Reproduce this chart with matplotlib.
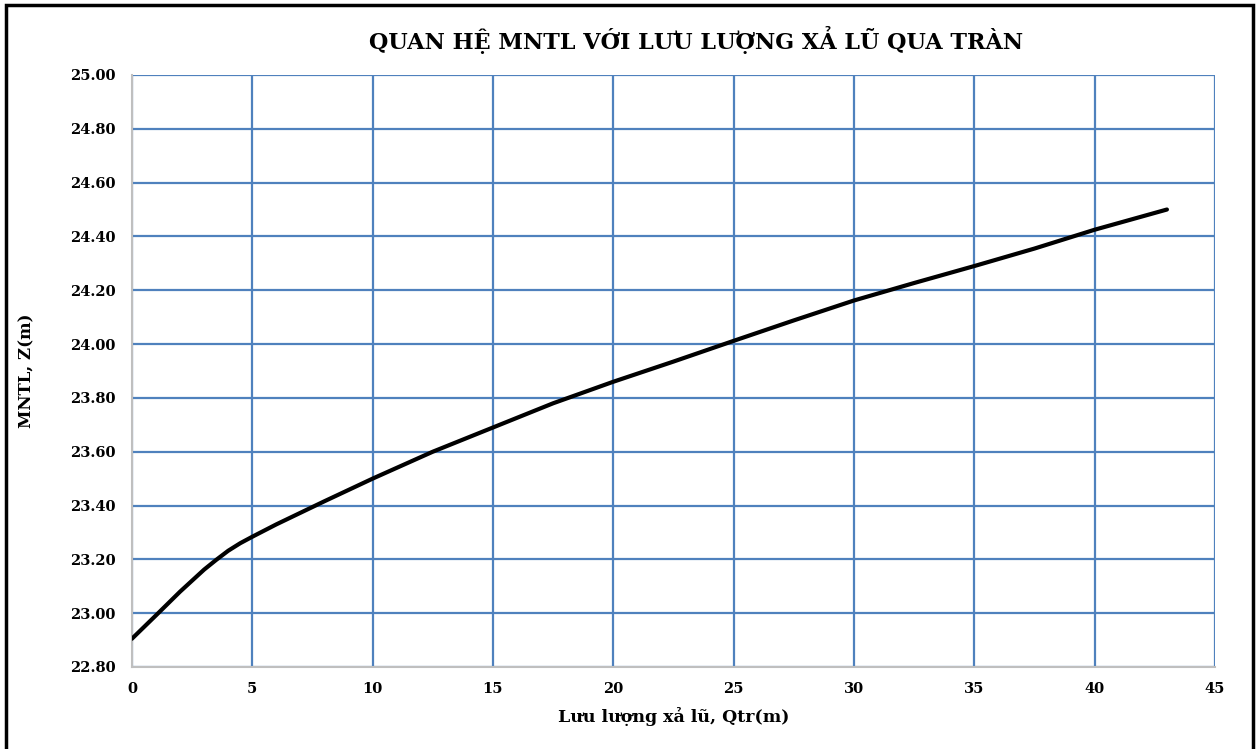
import matplotlib.pyplot as plt
from matplotlib.patches import Rectangle

# discharge over spillway (x) vs reservoir level (y)
q_tran = [0, 1, 2, 3, 3.5, 4, 4.5, 5, 6, 7, 8, 10, 12.5, 15, 17.5, 20,
          22.5, 25, 27.5, 30, 32.5, 35, 37.5, 40, 43]
mntl = [22.905, 22.992, 23.08, 23.162, 23.198, 23.232, 23.26, 23.284, 23.33,
        23.373, 23.416, 23.50, 23.60, 23.69, 23.78, 23.86, 23.935, 24.012,
        24.088, 24.162, 24.227, 24.29, 24.355, 24.425, 24.50]

x_ticks = [0, 5, 10, 15, 20, 25, 30, 35, 40, 45]
y_ticks = [22.80 + 0.2 * i for i in range(12)]

plt.rcParams['font.family'] = ['DejaVu Serif']
plt.rcParams['font.weight'] = 'bold'

fig = plt.figure(figsize=(12.59, 7.49), dpi=100)
ax = fig.add_axes([0.1048, 0.1095, 0.8603, 0.7904])

grid_col = '#4F81BD'
ax.plot(q_tran, mntl, color='black', linewidth=3, solid_capstyle='round',
        solid_joinstyle='round', zorder=3)

ax.set_xlim(0, 45)
ax.set_ylim(22.80, 25.00)
ax.set_xticks(x_ticks)
ax.set_yticks(y_ticks)
ax.set_yticklabels([f"{v:.2f}" for v in y_ticks])
ax.tick_params(length=0, labelsize=10.5)
ax.tick_params(axis='y', pad=12)
ax.tick_params(axis='x', pad=11)
for lab in ax.get_xticklabels() + ax.get_yticklabels():
    lab.set_fontweight('bold')

ax.grid(True, color=grid_col, linewidth=1.6)
ax.spines['top'].set_visible(False)
ax.spines['right'].set_visible(False)
ax.spines['left'].set_color('#BFBFBF')
ax.spines['bottom'].set_color('#BFBFBF')
ax.spines['left'].set_linewidth(1.5)
ax.spines['bottom'].set_linewidth(1.5)
ax.set_axisbelow(True)

ax.set_xlabel("Lưu lượng xả lũ, Qtr(m)", fontsize=12.5, fontweight='bold', labelpad=8)
ax.set_ylabel("MNTL, Z(m)", fontsize=12, fontweight='bold', labelpad=25)
fig.text(0.553, 0.947, "QUAN HỆ MNTL VỚI LƯU LƯỢNG XẢ LŨ QUA TRÀN",
         ha='center', va='center', fontsize=16, fontweight='bold')

# black frame around the chart area
fig.patches.append(Rectangle((0.005, -0.05), 0.99, 1.043, transform=fig.transFigure,
                             fill=False, edgecolor='black', linewidth=2.5))

fig.savefig("out.png", dpi=100)
